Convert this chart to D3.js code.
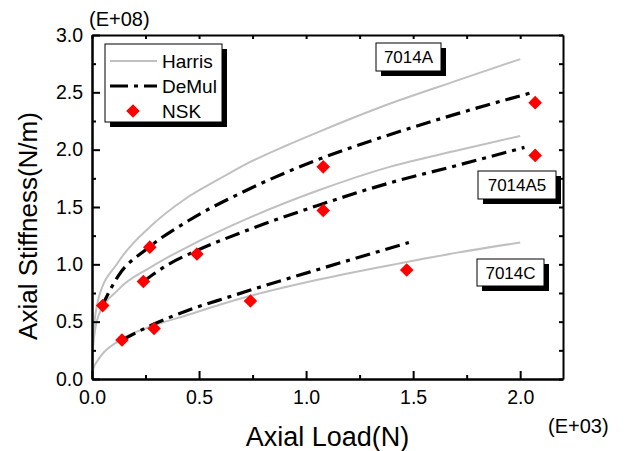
<!DOCTYPE html>
<html>
<head>
<meta charset="utf-8">
<script src="https://cdn.jsdelivr.net/npm/d3@7"></script>
<style>
  body { margin: 0; background: #fff; }
  text { font-family: "Liberation Sans", Arial, sans-serif; fill: #000; }
</style>
</head>
<body>
<div id="chart"></div>
<script>
// load in E+03 N, stiffness in E+08 N/m
var harrisA = [[0,0],[0.005,0.36],[0.03,0.70],[0.123,1.02],[0.279,1.34],[0.435,1.57],[0.59,1.74],[0.715,1.87],[0.9,2.03],[1.065,2.16],[1.39,2.40],[1.7,2.60],[2.0,2.79]];
var harrisA5 = [[0,0],[0.005,0.28],[0.03,0.55],[0.123,0.78],[0.279,0.98],[0.497,1.20],[0.715,1.39],[1.065,1.65],[1.39,1.85],[1.7,1.99],[2.0,2.12]];
var harrisC = [[0,0],[0.005,0.08],[0.03,0.17],[0.123,0.33],[0.279,0.46],[0.45,0.56],[0.6,0.65],[0.75,0.73],[1.065,0.87],[1.44,1.01],[1.7,1.10],[2.0,1.19]];

var demulA = [[0.045,0.63],[0.123,0.90],[0.26,1.14],[0.45,1.38],[0.715,1.64],[1.065,1.92],[1.39,2.13],[1.7,2.31],[2.06,2.50]];
var demulA5 = [[0.24,0.85],[0.357,1.00],[0.49,1.12],[0.715,1.29],[1.065,1.52],[1.39,1.71],[1.7,1.86],[2.02,2.02]];
var demulC = [[0.14,0.34],[0.29,0.48],[0.45,0.60],[0.63,0.71],[0.8,0.81],[1.065,0.96],[1.48,1.19]];

var nskA = [[0.05,0.64],[0.27,1.15],[1.08,1.85],[2.07,2.41]];
var nskA5 = [[0.24,0.85],[0.49,1.09],[1.08,1.47],[2.07,1.95]];
var nskC = [[0.14,0.34],[0.29,0.44],[0.74,0.68],[1.47,0.95]];

var xMajor = [0, 0.5, 1.0, 1.5, 2.0];
var xMinor = [0.25, 0.75, 1.25, 1.75];
var yMajor = [0, 0.5, 1.0, 1.5, 2.0, 2.5, 3.0];
var yMinor = [0.25, 0.75, 1.25, 1.75, 2.25, 2.75];

var legendNames = ["Harris", "DeMul", "NSK"];
var bearingLabels = ["7014A", "7014A5", "7014C"];

var width = 626;
var height = 451;
var margin = {left: 92, right: 63, top: 35, bottom: 72};

var svg = d3.select("#chart")
  .append("svg")
  .attr("width", width)
  .attr("height", height);

var x = d3.scaleLinear().domain([0, 2.2]).range([margin.left, width - margin.right]);
var y = d3.scaleLinear().domain([0, 3.0]).range([height - margin.bottom, margin.top]);

var line = d3.line()
  .x(function(d) { return x(d[0]); })
  .y(function(d) { return y(d[1]); })
  .curve(d3.curveMonotoneX);

var dash = "15,6,4,6";

// Harris curves (grey)
[harrisA, harrisA5, harrisC].forEach(function(s) {
  svg.append("path")
    .datum(s)
    .attr("d", line)
    .attr("fill", "none")
    .attr("stroke", "#c0c0c0")
    .attr("stroke-width", 2);
});

// De Mul curves (dash-dot)
[demulA, demulA5, demulC].forEach(function(s) {
  svg.append("path")
    .datum(s)
    .attr("d", line)
    .attr("fill", "none")
    .attr("stroke", "#000")
    .attr("stroke-width", 3.2)
    .attr("stroke-dasharray", dash);
});

// NSK points
var diamond = d3.symbol().type(d3.symbolSquare).size(92);
[nskA, nskA5, nskC].forEach(function(s) {
  svg.append("g")
    .selectAll("path")
    .data(s)
    .enter()
    .append("path")
    .attr("d", diamond)
    .attr("fill", "#ff0000")
    .attr("transform", function(d) {
      return "translate(" + x(d[0]) + "," + y(d[1]) + ") rotate(45)";
    });
});

// axes
function styleAxis(g) {
  g.selectAll("path.domain").attr("stroke-width", 2);
  g.selectAll(".tick line").attr("stroke-width", 2);
  g.selectAll("text").style("font-size", "19.5px").attr("fill", "#000");
}

var x0 = height - margin.bottom;
var y0 = margin.left;

svg.append("g")
  .attr("transform", "translate(0," + x0 + ")")
  .call(d3.axisBottom(x).tickValues(xMajor).tickSize(-8).tickSizeOuter(0).tickPadding(11).tickFormat(d3.format(".1f")))
  .call(styleAxis);
svg.append("g")
  .attr("transform", "translate(0," + x0 + ")")
  .call(d3.axisBottom(x).tickValues(xMinor).tickSize(-4).tickSizeOuter(0).tickFormat(""))
  .call(styleAxis);

svg.append("g")
  .attr("transform", "translate(" + y0 + ",0)")
  .call(d3.axisLeft(y).tickValues(yMajor).tickSize(-8).tickSizeOuter(0).tickPadding(9).tickFormat(d3.format(".1f")))
  .call(styleAxis);
svg.append("g")
  .attr("transform", "translate(" + y0 + ",0)")
  .call(d3.axisLeft(y).tickValues(yMinor).tickSize(-4).tickSizeOuter(0).tickFormat(""))
  .call(styleAxis);

svg.append("g")
  .attr("transform", "translate(0," + margin.top + ")")
  .call(d3.axisTop(x).tickValues(xMajor.concat(xMinor)).tickSize(-4).tickSizeOuter(0).tickFormat(""))
  .call(styleAxis);

svg.append("g")
  .attr("transform", "translate(" + (width - margin.right) + ",0)")
  .call(d3.axisRight(y).tickValues(yMajor.concat(yMinor)).tickSize(-4).tickSizeOuter(0).tickFormat(""))
  .call(styleAxis);

// axis titles + exponent notes
svg.append("text")
  .attr("x", (margin.left + width - margin.right) / 2)
  .attr("y", 446)
  .attr("text-anchor", "middle")
  .style("font-size", "27px")
  .text("Axial Load(N)");

svg.append("text")
  .attr("transform", "translate(37," + 226 + ") rotate(-90)")
  .attr("text-anchor", "middle")
  .style("font-size", "26px")
  .text("Axial Stiffness(N/m)");

svg.append("text")
  .attr("x", 89)
  .attr("y", 26)
  .style("font-size", "20px")
  .text("(E+08)");

svg.append("text")
  .attr("x", 548)
  .attr("y", 433)
  .style("font-size", "20px")
  .text("(E+03)");

// boxed labels with drop shadow
function shadowBox(bx, by, bw, bh) {
  svg.append("rect")
    .attr("x", bx + 5).attr("y", by + 5)
    .attr("width", bw).attr("height", bh)
    .attr("fill", "#000");
  svg.append("rect")
    .attr("x", bx).attr("y", by)
    .attr("width", bw).attr("height", bh)
    .attr("fill", "#fff")
    .attr("stroke", "#000")
    .attr("stroke-width", 1);
}

var labelBoxes = [[376, 43, 65, 28], [478, 171, 78, 28], [477, 259, 67, 27]];
labelBoxes.forEach(function(b, i) {
  shadowBox(b[0], b[1], b[2], b[3]);
  svg.append("text")
    .attr("x", b[0] + b[2] / 2)
    .attr("y", b[1] + b[3] / 2 + 6)
    .attr("text-anchor", "middle")
    .style("font-size", "17px")
    .text(bearingLabels[i]);
});

// legend
shadowBox(105, 44, 117, 78);
var lg = svg.append("g");
lg.append("line")
  .attr("x1", 110).attr("x2", 157).attr("y1", 61).attr("y2", 61)
  .attr("stroke", "#c0c0c0").attr("stroke-width", 2);
lg.append("line")
  .attr("x1", 110).attr("x2", 157).attr("y1", 86).attr("y2", 86)
  .attr("stroke", "#000").attr("stroke-width", 3.2)
  .attr("stroke-dasharray", "18,6,4,6");
lg.append("path")
  .attr("d", diamond)
  .attr("fill", "#ff0000")
  .attr("transform", "translate(133,111) rotate(45)");
legendNames.forEach(function(n, i) {
  lg.append("text")
    .attr("x", 162)
    .attr("y", 68 + i * 25)
    .style("font-size", "19px")
    .text(n);
});
</script>
</body>
</html>
